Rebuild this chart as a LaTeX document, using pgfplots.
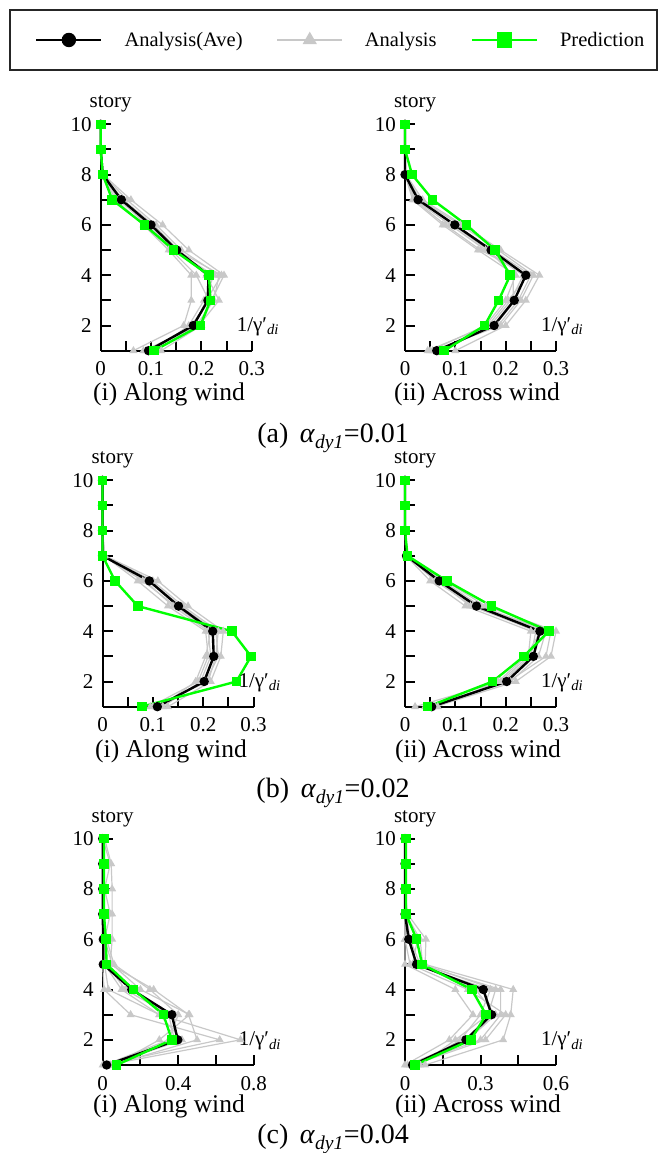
\documentclass[border=0pt]{standalone}
\usepackage{pgfplots}
\pgfplotsset{compat=1.18}
\usepackage{pgfplotstable}
\usepackage{fontspec}
\setmainfont{Liberation Serif}

\definecolor{predgreen}{RGB}{0,255,0}
\definecolor{anagrey}{RGB}{200,200,200}

\newcommand{\tickfont}{\fontsize{21bp}{24bp}\selectfont}
\newcommand{\capfont}{\fontsize{25.5bp}{30bp}\selectfont}
\newcommand{\maincapfont}{\fontsize{28bp}{30bp}\selectfont}
\newcommand{\legfont}{\fontsize{20.5bp}{24bp}\selectfont}

% columns: story, Analysis(Ave), Prediction, single analyses
\pgfplotstableread{
s  a     p     g1    g2    g3    g4    g5    g6    g7
1  0.095 0.106 0.120 0.065 0.090 0.105 0.085 0.100 0.110
2  0.184 0.198 0.200 0.165 0.190 0.175 0.195 0.180 0.185
3  0.213 0.218 0.220 0.180 0.225 0.205 0.235 0.215 0.210
4  0.214 0.215 0.245 0.180 0.235 0.225 0.210 0.190 0.240
5  0.151 0.145 0.175 0.135 0.160 0.145 0.155 0.140 0.150
6  0.100 0.087 0.123 0.085 0.110 0.095 0.105 0.090 0.100
7  0.041 0.023 0.060 0.030 0.052 0.035 0.045 0.040 0.038
8  0.004 0.004 0.005 0.003 0.005 0.003 0.004 0.004 0.004
9  0     0     0     0     0     0     0     0     0
10 0     0     0     0     0     0     0     0     0
}\tAi
\pgfplotstableread{
s  a     p     g1    g2    g3    g4    g5    g6    g7
1  0.063 0.078 0.050 0.100 0.060 0.075 0.055 0.070 0.045
2  0.177 0.158 0.160 0.200 0.185 0.170 0.190 0.175 0.165
3  0.217 0.186 0.200 0.240 0.225 0.210 0.230 0.215 0.205
4  0.240 0.209 0.220 0.267 0.250 0.235 0.255 0.215 0.245
5  0.171 0.179 0.145 0.190 0.175 0.160 0.185 0.165 0.150
6  0.099 0.122 0.075 0.115 0.100 0.090 0.110 0.095 0.080
7  0.026 0.055 0.015 0.035 0.025 0.020 0.030 0.028 0.018
8  0     0.014 0     0.002 0     0     0.001 0     0
9  0     0     0     0     0     0     0     0     0
10 0     0     0     0     0     0     0     0     0
}\tAii
\pgfplotstableread{
s  a     p     g1    g2    g3    g4    g5    g6    g7
1  0.109 0.078 0.095 0.130 0.100 0.120 0.105 0.115 0.110
2  0.202 0.266 0.190 0.215 0.210 0.195 0.205 0.185 0.200
3  0.221 0.295 0.210 0.235 0.225 0.215 0.230 0.205 0.220
4  0.219 0.257 0.205 0.240 0.230 0.210 0.225 0.215 0.220
5  0.151 0.070 0.130 0.170 0.160 0.140 0.155 0.145 0.150
6  0.093 0.025 0.070 0.110 0.100 0.085 0.095 0.080 0.090
7  0     0     0.003 0.005 0.004 0.002 0.003 0.002 0.003
8  0     0     0     0     0     0     0     0     0
9  0     0     0     0     0     0     0     0     0
10 0     0     0     0     0     0     0     0     0
}\tBi
\pgfplotstableread{
s  a     p     g1    g2    g3    g4    g5    g6    g7
1  0.053 0.045 0.020 0.060 0.045 0.055 0.040 0.065 0.050
2  0.202 0.174 0.190 0.220 0.210 0.195 0.205 0.185 0.200
3  0.255 0.236 0.245 0.290 0.265 0.250 0.280 0.240 0.255
4  0.268 0.286 0.250 0.300 0.280 0.260 0.290 0.270 0.265
5  0.142 0.172 0.120 0.160 0.150 0.135 0.145 0.130 0.140
6  0.068 0.083 0.050 0.080 0.075 0.060 0.070 0.065 0.068
7  0.003 0.005 0.002 0.004 0.003 0.003 0.003 0.002 0.003
8  0     0     0     0     0     0     0     0     0
9  0     0     0     0     0     0     0     0     0
10 0     0     0     0     0     0     0     0     0
}\tBii
\pgfplotstableread{
s  a     p     g1    g2    g3    g4    g5    g6    g7
1  0.021 0.074 0.020 0.050 0.000 0.060 0.030 0.040 0.010
2  0.398 0.366 0.730 0.500 0.620 0.300 0.380 0.420 0.350
3  0.366 0.322 0.300 0.455 0.148 0.460 0.350 0.300 0.400
4  0.154 0.163 0.030 0.270 0.007 0.200 0.120 0.100 0.250
5  0.003 0.021 0.010 0.040 0.000 0.050 0.020 0.010 0.060
6  0.003 0.016 0.005 0.050 0.000 0.010 0.000 0.010 0.020
7  0     0.007 0     0.050 0     0.040 0     0     0.010
8  0     0.007 0     0.050 0     0.010 0     0     0
9  0     0.007 0     0.045 0     0.040 0     0     0.010
10 0     0.007 0     0.010 0     0     0     0     0
}\tCi
\pgfplotstableread{
s  a     p     g1    g2    g3    g4    g5    g6    g7
1  0.030 0.040 0.000 0.080 0.020 0.050 0.010 0.060 0.030
2  0.242 0.262 0.176 0.390 0.300 0.220 0.250 0.200 0.320
3  0.344 0.322 0.270 0.420 0.380 0.300 0.360 0.330 0.400
4  0.311 0.265 0.200 0.430 0.380 0.340 0.280 0.360 0.250
5  0.046 0.068 0.000 0.080 0.060 0.030 0.050 0.070 0.020
6  0.015 0.046 0.000 0.083 0.020 0.050 0.010 0.060 0.000
7  0     0.004 0     0.010 0.005 0     0     0.003 0
8  0     0.004 0     0     0     0     0     0     0
9  0     0.004 0     0     0     0     0     0     0
10 0     0.004 0     0     0     0     0     0     0
}\tCii

\pgfplotsset{
  panel/.style={scale only axis, width=151bp, height=228.9bp, anchor=south west,
    xmin=0, ymin=1, ymax=10.1, axis x line*=bottom, axis y line*=left,
    axis line style={-, black, line width=2bp},
    xtick pos=left, ytick pos=left,
    ytick={2,4,6,8,10}, minor ytick={1,3,5,7,9},
    tick align=inside,
    major tick length=10bp, minor tick length=10bp,
    major tick style={black, line width=2bp},
    minor tick style={black, line width=2bp},
    tick label style={font=\tickfont},
    yticklabel style={inner sep=0pt, xshift=-9bp},
    xticklabel style={inner sep=0pt, yshift=-11bp},
    /pgf/number format/assume math mode=true, clip=false},
  avestyle/.style={black, line width=2.4bp, mark=*, mark size=3.4bp},
  predstyle/.style={predgreen, line width=2.4bp, mark=square*, mark size=3.6bp},
  anastyle/.style={anagrey, line width=1.2bp, mark=triangle*, mark size=3.5bp},
}

% #1 table, #2 positions of the x ticks (besides 0)
\newcommand{\series}[2]{%
  \pgfplotsinvokeforeach{2,...,10}{\draw[black, line width=2bp] (axis cs:0,##1) -- ([xshift=10bp]axis cs:0,##1);}
  \pgfplotsinvokeforeach{#2}{\draw[black, line width=2bp] (axis cs:##1,1) -- ([yshift=8bp]axis cs:##1,1);}
  \addplot[anastyle] table[x=g1,y=s]{#1};
  \addplot[anastyle] table[x=g2,y=s]{#1};
  \addplot[anastyle] table[x=g3,y=s]{#1};
  \addplot[anastyle] table[x=g4,y=s]{#1};
  \addplot[anastyle] table[x=g5,y=s]{#1};
  \addplot[anastyle] table[x=g6,y=s]{#1};
  \addplot[anastyle] table[x=g7,y=s]{#1};
  \addplot[avestyle] table[x=a,y=s]{#1};
  \addplot[predstyle] table[x=p,y=s]{#1};
  \node[anchor=base, font=\tickfont, inner sep=0pt] at ([xshift=10bp,yshift=16.6bp]axis cs:0,10) {story};
  \node[anchor=base west, font=\tickfont, inner sep=0pt] at ([yshift=19bp]rel axis cs:0.9,0) {1/γ′\textsubscript{\textit{di}}};
}

\begin{document}
\begin{tikzpicture}[x=1bp,y=1bp]
\path[use as bounding box] (0,0) rectangle (667,1153);

% legend
\draw[line width=1.3bp, black!85] (10,1083) rectangle (657,1143);
\begin{axis}[hide axis, scale only axis, width=647bp, height=60bp,
  at={(10bp,1083bp)}, anchor=south west, xmin=0, xmax=1, ymin=0, ymax=1,
  legend columns=3,
  legend style={draw=none, fill=none, inner sep=0pt, nodes={inner sep=0pt},
    at={(axis description cs:0.0386,0.5)}, anchor=west, font=\legfont,
    /tikz/every odd column/.append style={column sep=22bp},
    /tikz/every even column/.append style={column sep=34bp}},
  legend image code/.code={\draw[mark repeat=2,mark phase=2,#1] plot coordinates {(0bp,0bp)(32.5bp,0bp)(65bp,0bp)};}]
\addlegendimage{black, line width=2.4bp, mark=*, mark size=6bp}
\addlegendentry{Analysis(Ave)}
\addlegendimage{anagrey, line width=1.3bp, mark=triangle*, mark size=7bp}
\addlegendentry{Analysis}
\addlegendimage{predgreen, line width=2.4bp, mark=square*, mark size=6.5bp}
\addlegendentry{Prediction}
\end{axis}

% row (a)
\begin{axis}[panel, at={(100.7bp,802.3bp)}, xmax=0.3, xtick={0,0.1,0.2,0.3},
  minor xtick={0.05,0.15,0.25}, xticklabels={0,0.1,0.2,0.3}]
\series{\tAi}{0.05,0.1,0.15,0.2,0.25,0.3}
\end{axis}
\begin{axis}[panel, at={(405bp,802.3bp)}, xmax=0.3, xtick={0,0.1,0.2,0.3},
  minor xtick={0.05,0.15,0.25}, xticklabels={0,0.1,0.2,0.3}]
\series{\tAii}{0.05,0.1,0.15,0.2,0.25,0.3}
\end{axis}
% row (b)
\begin{axis}[panel, at={(102.5bp,446.3bp)}, xmax=0.3, xtick={0,0.1,0.2,0.3},
  minor xtick={0.05,0.15,0.25}, xticklabels={0,0.1,0.2,0.3}]
\series{\tBi}{0.05,0.1,0.15,0.2,0.25,0.3}
\end{axis}
\begin{axis}[panel, at={(405bp,446.3bp)}, xmax=0.3, xtick={0,0.1,0.2,0.3},
  minor xtick={0.05,0.15,0.25}, xticklabels={0,0.1,0.2,0.3}]
\series{\tBii}{0.05,0.1,0.15,0.2,0.25,0.3}
\end{axis}
% row (c)
\begin{axis}[panel, at={(102.7bp,88bp)}, xmax=0.8, xtick={0,0.4,0.8},
  minor xtick={0.2,0.6}, xticklabels={0,0.4,0.8}]
\series{\tCi}{0.2,0.4,0.6,0.8}
\end{axis}
\begin{axis}[panel, at={(405bp,88bp)}, xmax=0.6, xtick={0,0.3,0.6},
  minor xtick={0.15,0.45}, xticklabels={0,0.3,0.6}]
\series{\tCii}{0.15,0.3,0.45,0.6}
\end{axis}

% captions
\begin{scope}[every node/.style={font=\capfont, inner sep=0pt, anchor=base}]
\node at (169,752) {(i) Along wind};
\node at (477,752) {(ii) Across wind};
\node[font=\maincapfont] at (333,710) {(a)\, \textit{α}\textsubscript{\textit{dy1}}=0.01};
\node at (171,395) {(i) Along wind};
\node at (478,395) {(ii) Across wind};
\node[font=\maincapfont] at (333,355) {(b)\, \textit{α}\textsubscript{\textit{dy1}}=0.02};
\node at (169,40) {(i) Along wind};
\node at (478,40) {(ii) Across wind};
\node[font=\maincapfont] at (333,9) {(c)\, \textit{α}\textsubscript{\textit{dy1}}=0.04};
\end{scope}
\end{tikzpicture}
\end{document}
